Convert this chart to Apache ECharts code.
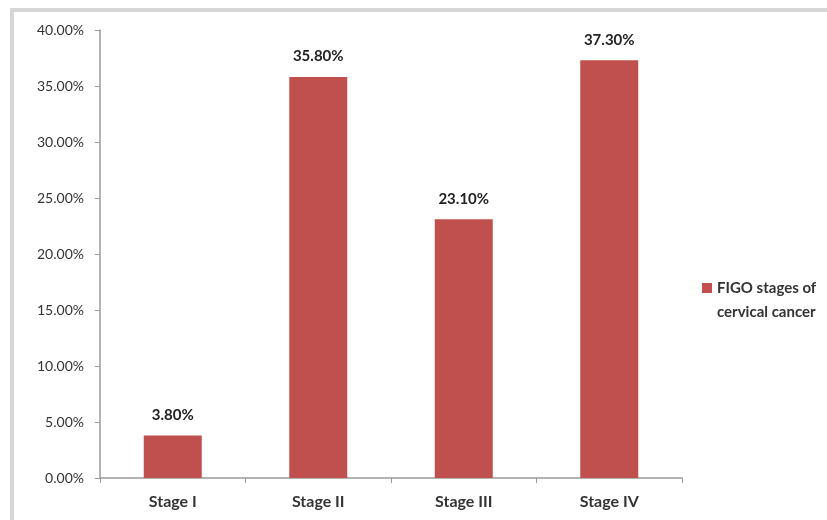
<!DOCTYPE html>
<html>
<head>
<meta charset="utf-8">
<script src="https://cdn.jsdelivr.net/npm/echarts@6/dist/echarts.min.js"></script>
<style>
  html, body { margin: 0; padding: 0; background: #fff; }
  #chart { width: 827px; height: 520px; }
</style>
</head>
<body>
<div id="chart"></div>
<script>
// FIGO stage distribution of cervical cancer cases (percent)
const categories = ['Stage I', 'Stage II', 'Stage III', 'Stage IV'];
const percentages = [3.8, 35.8, 23.1, 37.3];
const seriesName = 'FIGO stages of\ncervical cancer';

const chart = echarts.init(document.getElementById('chart'));
const labelFont = 'Lato, "Open Sans", sans-serif';

chart.setOption({
  animation: false,
  backgroundColor: '#ffffff',
  graphic: [
    {
      type: 'rect',
      shape: { x: 12, y: 10, width: 830, height: 530 },
      style: { fill: 'none', stroke: '#d6d6d6', lineWidth: 4 },
      silent: true
    }
  ],
  grid: { left: 100, right: 145, top: 30, bottom: 42, containLabel: false },
  legend: {
    orient: 'vertical',
    left: 697,
    top: 247,
    itemWidth: 10,
    itemHeight: 10,
    icon: 'rect',
    // leading blank line keeps the swatch level with the first text line
    formatter: name => ' \n' + name,
    textStyle: {
      fontFamily: labelFont, fontWeight: 'bold', fontSize: 15, color: '#333', lineHeight: 24
    },
    data: [seriesName]
  },
  xAxis: {
    type: 'category',
    data: categories,
    axisLine: { lineStyle: { color: '#9a9a9a', width: 1.5 } },
    axisTick: { show: true, alignWithLabel: false, length: 5, lineStyle: { color: '#9a9a9a' } },
    axisLabel: { fontFamily: labelFont, fontWeight: 'bold', fontSize: 16, color: '#333', margin: 16 }
  },
  yAxis: {
    type: 'value',
    min: 0,
    max: 40,
    interval: 5,
    axisLine: { show: true, lineStyle: { color: '#9a9a9a', width: 1.5 } },
    axisTick: { show: true, inside: false, length: 5, lineStyle: { color: '#9a9a9a' } },
    splitLine: { show: false },
    axisLabel: {
      fontFamily: labelFont, fontSize: 14, color: '#333', margin: 16,
      formatter: v => v.toFixed(2) + '%'
    }
  },
  series: [
    {
      name: seriesName,
      type: 'bar',
      data: percentages,
      barWidth: 58,
      itemStyle: { color: '#c0504d' },
      label: {
        show: true,
        position: 'top',
        distance: 13,
        fontFamily: labelFont,
        fontWeight: 'bold',
        fontSize: 15,
        color: '#222',
        formatter: p => p.value.toFixed(2) + '%'
      }
    }
  ]
});
</script>
</body>
</html>
